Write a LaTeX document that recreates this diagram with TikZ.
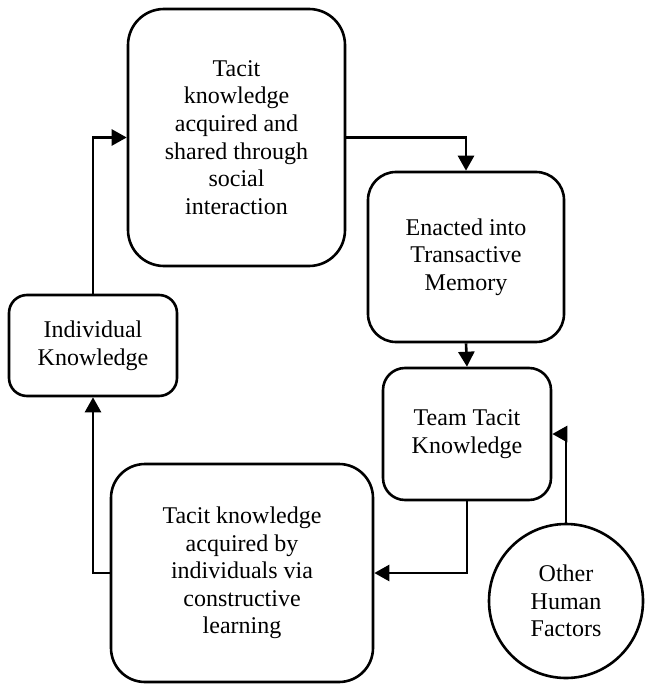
\documentclass[tikz,border=0pt]{standalone}
\usepackage{fontspec}
\setmainfont{Liberation Serif}
\usetikzlibrary{arrows.meta}

\begin{document}
\begin{tikzpicture}[x=0.5pt, y=-0.5pt,
    box/.style={draw, line width=1.3pt, align=center, inner sep=0pt, font=\fontsize{12}{13.8}\selectfont},
    arr/.style={-{Triangle[length=7.5pt,width=8pt]}, line width=1.3pt}
]
    \useasboundingbox (0,0) rectangle (644,689);
    \node[box, rounded corners=18pt, minimum width=108.5pt, minimum height=128.5pt] (social) at (236.5,137.5)
        {Tacit\\knowledge\\acquired and\\shared through\\social\\interaction};
    \node[box, rounded corners=14pt, minimum width=98pt, minimum height=85pt] (enact) at (466,257)
        {Enacted into\\Transactive\\Memory};
    \node[box, rounded corners=11pt, minimum width=84pt, minimum height=66pt] (team) at (467,434)
        {Team Tacit\\Knowledge};
    \node[box, rounded corners=9pt, minimum width=84pt, minimum height=50.5pt] (indiv) at (93,345.5)
        {Individual\\Knowledge};
    \node[box, rounded corners=17pt, minimum width=131pt, minimum height=109pt] (constr) at (242,573)
        {Tacit knowledge\\acquired by\\individuals via\\constructive\\learning};
    \node[box, circle, minimum size=77pt] (other) at (566,601)
        {Other\\Human\\Factors};
    \draw[arr] (indiv.north) |- (social.west);
    \draw[arr] (social.east) -| (enact.north);
    \draw[arr] (enact.south) -- (team.north);
    \draw[arr] (team.south) |- (constr.east);
    \draw[arr] (constr.west) -| (indiv.south);
    \draw[arr] (other.north) |- (team.east);
\end{tikzpicture}
\end{document}
